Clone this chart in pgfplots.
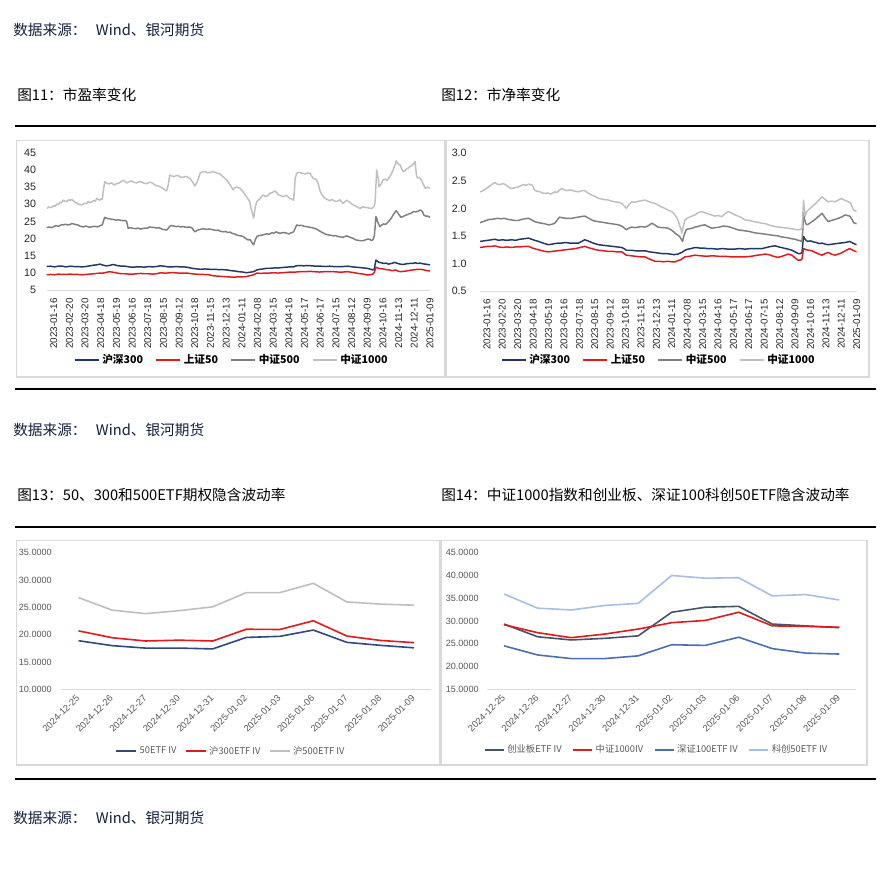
\documentclass[border=0pt]{standalone}
\usepackage{fontspec}
\usepackage{pgfplots}
\usepackage{pgfplotstable}
\pgfplotsset{compat=1.18}
\setmainfont{Liberation Sans}
\newfontfamily\cjk{Noto Sans CJK SC}

\definecolor{hdr}{HTML}{13213F}
\definecolor{cnavy}{HTML}{1F3864}
\definecolor{cred}{HTML}{E31A1C}
\definecolor{cgray}{HTML}{7F7F7F}
\definecolor{clgray}{HTML}{BFBFBF}
\definecolor{cfifty}{HTML}{2F4A7E}
\definecolor{cchy}{HTML}{44546A}
\definecolor{csz}{HTML}{4A6FB5}
\definecolor{ckc}{HTML}{A6BFE8}
\definecolor{boxc}{HTML}{D9D9D9}
\definecolor{tickc}{HTML}{595959}

% ---- PE (fig 11) ----
\pgfplotstableread{
x y
0 28.8
3 29.2
6 29.0
9 29.6
11 29.4
13 30.1
15 29.9
17 30.6
19 30.4
21 31.2
23 30.9
25.5 30.8
28 31.3
30 31.1
32 31.4
34 31.0
36 30.6
38 30.4
41 30.0
44.6 29.8
47 30.1
49 30.3
51 30.2
53 30.8
55 30.5
57 30.6
60 31.1
62 30.9
64 31.7
66 31.4
68 31.2
70 31.6
71 31.4
72 33.5
74 36.6
76 36.2
79 35.9
81 36.1
83 36.2
85 35.8
87 35.6
89 36.1
91 36.0
94 36.4
96 36.8
98 37.0
100 36.6
102 36.2
105 36.5
108 36.8
111 36.4
115 36.2
118 36.6
121 36.5
124 36.1
128 36.0
131 36.4
134 36.3
137 35.8
140 35.4
143 35.3
145 35.1
147 34.8
149 34.5
151 34.1
153 33.9
155 35.5
157 38.5
160 38.2
162 38.0
165 38.3
168 38.3
171 37.9
174 37.8
177 38.1
179 38.0
181 37.7
183 37.5
186 36.5
189 35.3
192 36.5
194 37.8
196 39.2
199 39.4
202 39.5
205 39.2
208 39.2
211 39.5
215 39.3
218 39.0
221 38.8
223 38.4
225 38.0
228 37.4
230 37.0
232 36.3
234 35.6
236 34.9
238 34.2
240 34.8
242 35.0
245 34.8
247 34.6
249 34.0
251 33.5
253 32.8
255 32.2
257 31.5
259 30.8
261 28.5
263 27.0
264 26.0
265 27.5
266 29.0
268 30.8
270 31.2
272 31.5
274 32.2
276 32.7
278 32.4
281 32.3
283 32.8
285 33.2
288 33.4
291 33.9
293 33.5
296 32.7
299 32.5
302 32.2
304 32.4
306 32.6
308 32.1
310 31.7
313 31.5
315 31.2
316 34.0
317 37.5
319 39.0
321 39.3
323 39.2
326 39.0
330 38.8
333 39.1
336 39.0
338 38.2
340 37.5
342 37.4
344 37.1
346 36.2
349 33.7
352 32.5
355 31.7
358 31.4
361 31.0
363 31.3
366 31.2
368 30.9
370 30.8
372 31.0
374 31.3
376 30.8
378 30.3
381 30.8
383 31.2
385 30.8
387 30.5
389 30.1
391 29.8
393 29.6
395 29.4
397 29.1
400 28.8
402 29.1
404 29.3
406 29.0
408 29.1
411 28.9
415 28.8
417 29.2
418 29.5
419 30.8
420 35.5
421 40.0
422 38.5
423 37.5
424 35.1
425 35.4
427 36.0
429 37.1
432 37.3
434 36.9
436 37.5
439 38.5
442 40.0
444 41.2
446 42.6
448 41.8
451 41.4
453 40.2
455 39.5
457 39.8
459 40.2
461 40.5
463 40.9
466 41.3
468 41.8
470 42.4
471 40.0
472 38.0
474 37.6
475 37.8
477 37.4
478 37.1
480 36.0
483 34.6
486 35.0
489 34.6
}\peThousand

\pgfplotstableread{
x y
0 23.2
3 23.4
6 23.2
9 23.5
12 23.8
15 23.6
17 23.8
19 24.1
21 24.0
24 24.2
27 24.0
30 24.1
32 24.4
34 24.3
37 24.1
40 24.0
42 23.7
44.6 23.5
47 23.4
50 23.7
52 23.5
55 23.3
58 23.5
62 23.6
65 23.4
68 23.8
70 23.9
71 24.0
72 24.8
74 26.2
76 26.0
78 25.8
80 25.8
83 25.6
85 25.6
88 25.4
92 25.5
95 25.3
98 25.2
100 25.3
102 25.0
103 24.0
104 23.0
107 23.2
110 23.0
114 22.9
117 23.1
119 22.8
122 22.9
125 23.1
128 23.0
131 23.4
134 23.3
136 23.3
140 23.1
143 23.2
145 23.0
148 22.7
151 22.6
153 22.5
155 23.0
157 23.6
159 23.8
162 23.7
165 23.5
168 23.6
171 23.4
174 23.5
178 23.3
182 23.4
185 23.2
187 22.6
189 22.0
192 22.4
194 22.6
196 22.7
200 22.9
204 22.7
208 22.8
212 22.6
216 22.4
219 22.5
221 22.2
225 22.0
228 22.1
231 21.8
234 21.9
237 21.5
240 21.4
242 21.1
245 20.9
248 20.8
251 20.6
253 20.2
255 19.9
257 19.6
259 19.8
261 19.2
262 18.8
264 18.2
266 19.6
268 20.6
271 20.9
274 21.0
277 21.2
281 21.4
284 21.3
287 21.7
290 21.6
293 22.0
295 21.7
298 21.6
302 21.8
306 21.6
309 21.4
312 21.7
315 22.0
317 23.0
319 24.0
322 23.8
325 23.9
328 23.6
332 23.5
336 23.3
340 23.1
344 22.8
347 22.4
350 22.0
353 21.6
356 21.3
359 21.1
362 21.0
366 20.8
369 20.9
372 20.6
375 20.5
378 20.4
381 20.7
383 20.8
385 20.6
388 20.3
391 20.1
393 19.8
395 19.6
398 19.5
401 19.4
404 19.4
407 19.7
410 19.9
412 19.8
414 19.5
416 19.6
418 20.8
419 23.5
420 26.4
421 26.0
422 25.0
424 24.0
425 23.5
427 23.9
430 24.3
432 24.1
434 24.5
437 25.2
440 26.1
442 26.9
444 27.6
446 28.1
448 27.5
450 26.8
452 26.2
454 26.4
456 26.6
459 26.9
462 27.2
465 27.4
468 27.9
471 27.8
474 28.0
476 28.3
478 28.2
480 27.6
481 26.9
484 26.5
486 26.6
489 26.2
}\peFive

\pgfplotstableread{
x y
0 11.9
5 12.0
10 11.8
15 12.0
20 12.0
25 11.8
30 12.0
35 11.9
40 11.9
45 11.8
50 11.9
55 12.1
60 12.3
64 12.4
68 12.6
72 12.3
76 12.1
80 12.2
83 12.4
85 12.5
88 12.3
92 12.1
96 12.0
100 12.0
105 11.8
110 11.7
115 11.8
120 11.8
125 11.7
130 11.9
135 11.8
140 11.9
145 12.1
150 12.0
155 11.8
160 11.8
165 11.9
170 11.8
175 11.8
179 11.7
183 11.5
188 11.3
192 11.2
196 11.1
202 11.2
208 11.1
214 11.1
220 11.0
225 11.0
230 10.9
235 10.7
240 10.6
245 10.4
250 10.3
255 10.1
258 10.2
261 10.3
264 10.4
268 10.9
272 11.1
276 11.2
281 11.4
286 11.4
291 11.5
296 11.5
300 11.6
305 11.7
310 11.8
315 11.8
318 12.1
323 12.2
328 12.1
333 12.2
338 12.1
344 12.0
350 12.0
356 11.9
361 12.0
366 11.9
372 11.9
378 11.9
384 12.0
390 11.8
395 11.7
400 11.6
404 11.5
408 11.4
412 11.2
416 10.9
418 11.2
420 13.8
422 13.4
424 13.1
427 13.0
430 12.8
433 12.9
436 12.6
440 12.8
444 13.1
448 12.8
451 12.6
455 12.5
459 12.7
463 12.8
467 12.8
470 13.0
473 12.8
476 12.9
480 12.7
483 12.6
486 12.5
489 12.4
}\peHS

\pgfplotstableread{
x y
0 9.5
5 9.6
10 9.5
15 9.7
20 9.6
25 9.6
30 9.7
35 9.6
40 9.6
45 9.5
50 9.6
55 9.7
60 9.8
64 9.9
68 10.0
72 10.0
76 10.2
80 10.4
83 10.3
86 10.2
90 10.0
95 9.8
100 9.8
105 9.7
110 9.7
115 9.8
120 9.9
125 9.8
130 9.8
135 9.7
140 9.8
145 10.1
150 10.0
153 10.0
158 10.1
163 10.1
168 10.0
173 10.0
179 10.0
185 9.8
190 9.7
195 9.6
200 9.6
207 9.5
213 9.2
219 9.1
225 9.0
232 8.9
238 8.8
244 8.9
250 8.9
255 9.0
260 9.3
264 9.5
268 10.0
273 9.9
278 10.0
284 10.0
290 10.1
295 10.0
300 10.1
306 10.2
312 10.3
318 10.3
323 10.4
330 10.4
336 10.5
342 10.4
348 10.3
354 10.4
360 10.4
366 10.4
372 10.3
378 10.3
384 10.4
390 10.2
395 10.0
400 9.8
404 9.7
408 9.5
412 9.5
416 9.7
418 10.2
420 11.7
423 11.4
426 11.3
429 11.2
433 11.0
437 10.9
441 10.7
445 10.9
448 10.6
451 10.4
455 10.5
459 10.6
463 10.8
467 10.9
470 11.0
473 11.1
476 11.1
480 11.0
483 10.8
486 10.7
489 10.6
}\peSZ

% ---- PB (fig 12) ----
\pgfplotstableread{
x y
0 2.30
4 2.32
8 2.36
11 2.39
14 2.42
17 2.45
19.5 2.47
22 2.44
26 2.43
29 2.45
32 2.44
35 2.41
38 2.38
41 2.36
44 2.37
47 2.38
50 2.39
53 2.41
56 2.43
60 2.42
63 2.44
66 2.43
68 2.42
71 2.33
74 2.31
78 2.30
81 2.28
84 2.27
88 2.28
92 2.26
97 2.30
100 2.29
103 2.33
106 2.36
109 2.34
112 2.32
115 2.33
119 2.33
123 2.31
128 2.30
132 2.32
136 2.32
140 2.28
145 2.24
149 2.22
154 2.18
158 2.17
162 2.16
167 2.15
171 2.13
175 2.12
180 2.11
184 2.09
187 2.05
190 2.00
193 2.06
197 2.12
201 2.11
206 2.13
210 2.14
214 2.15
218 2.13
222 2.11
227 2.09
231 2.06
235 2.03
240 2.00
244 1.97
249 1.94
252 1.90
255 1.84
257 1.79
259 1.70
261 1.62
262 1.55
264 1.68
266 1.79
269 1.82
272 1.84
275 1.86
279 1.88
283 1.92
288 1.94
292 1.92
296 1.90
301 1.88
305 1.86
309 1.87
314 1.85
318 1.90
322 1.94
326 1.92
331 1.88
335 1.86
340 1.83
344 1.79
350 1.78
355 1.76
360 1.75
366 1.73
371 1.72
377 1.69
383 1.67
388 1.66
394 1.65
400 1.64
404 1.63
409 1.62
413 1.61
416 1.62
418 1.64
419 1.85
420 2.15
421 2.00
422 1.85
424 1.94
427 1.98
431 2.03
435 2.08
440 2.15
444 2.21
448 2.16
452 2.12
456 2.13
461 2.12
465 2.15
469 2.18
473 2.15
478 2.12
481 2.10
485 1.97
489 1.94
}\pbThousand

\pgfplotstableread{
x y
0 1.74
4 1.76
8 1.78
12 1.80
15 1.80
19 1.81
23 1.82
27 1.81
32 1.82
36 1.80
41 1.79
45 1.78
50 1.78
54 1.80
58 1.81
63 1.82
67 1.79
71 1.76
76 1.74
80 1.73
84 1.72
89 1.70
93 1.71
97 1.73
100 1.78
103 1.84
107 1.83
111 1.82
115 1.82
119 1.82
123 1.83
127 1.84
131 1.85
136 1.86
140 1.83
145 1.79
149 1.77
153 1.76
158 1.75
162 1.74
166 1.73
171 1.72
176 1.71
180 1.70
185 1.67
190 1.61
193 1.64
197 1.66
201 1.65
205 1.66
210 1.67
214 1.66
218 1.68
221 1.71
223 1.73
227 1.70
231 1.66
236 1.65
240 1.65
244 1.64
248 1.61
251 1.58
253 1.55
256 1.52
259 1.49
261 1.45
263 1.40
265 1.52
268 1.62
272 1.63
276 1.64
279 1.66
283 1.67
287 1.69
292 1.70
296 1.67
301 1.64
306 1.65
311 1.66
316 1.68
322 1.67
327 1.65
331 1.63
335 1.61
340 1.60
345 1.59
350 1.58
355 1.56
360 1.55
366 1.54
371 1.53
376 1.52
381 1.51
387 1.50
392 1.48
398 1.47
404 1.45
409 1.44
413 1.42
416 1.41
418 1.40
419 1.60
420 1.91
421 1.82
423 1.72
425 1.70
428 1.73
431 1.76
435 1.80
440 1.86
444 1.91
448 1.83
452 1.76
456 1.78
461 1.80
465 1.82
469 1.84
474 1.88
477 1.87
480 1.86
483 1.80
485 1.74
489 1.72
}\pbFive

\pgfplotstableread{
x y
0 1.40
5 1.41
10 1.42
15 1.43
19.5 1.44
24 1.42
29 1.43
35 1.42
41 1.43
46 1.42
52 1.44
58 1.45
63 1.46
67 1.44
71 1.42
76 1.40
80 1.38
84 1.36
89 1.34
93 1.35
97 1.36
102 1.37
106 1.37
111 1.38
116 1.37
122 1.37
128 1.37
132 1.40
136 1.43
140 1.41
145 1.38
149 1.36
154 1.34
160 1.33
166 1.32
172 1.31
178 1.30
184 1.29
187 1.27
190 1.24
196 1.24
202 1.23
208 1.23
214 1.23
220 1.21
226 1.20
231 1.19
236 1.18
242 1.18
247 1.17
252 1.16
257 1.17
260 1.19
262 1.20
264 1.22
266 1.24
270 1.26
274 1.27
279 1.29
285 1.28
290 1.28
295 1.27
301 1.27
308 1.26
315 1.27
322 1.26
330 1.26
337 1.27
344 1.26
351 1.27
358 1.27
366 1.27
372 1.29
378 1.31
383 1.32
388 1.30
394 1.28
400 1.26
405 1.24
409 1.21
413 1.18
416 1.18
418 1.20
419 1.35
420 1.49
422 1.44
425 1.40
429 1.41
433 1.39
437 1.38
440 1.36
444 1.37
448 1.35
452 1.34
457 1.35
462 1.36
468 1.37
474 1.38
477 1.39
480 1.40
484 1.37
487 1.35
489 1.34
}\pbHS

\pgfplotstableread{
x y
0 1.29
5 1.30
10 1.31
15 1.31
19.5 1.32
24 1.30
29 1.29
35 1.30
41 1.29
46 1.30
52 1.30
58 1.31
63 1.31
68 1.28
73 1.26
78 1.24
84 1.22
89 1.21
94 1.22
100 1.23
106 1.24
112 1.25
118 1.26
124 1.27
130 1.29
136 1.31
140 1.29
145 1.27
150 1.25
154 1.24
160 1.23
166 1.22
172 1.22
178 1.21
184 1.21
187 1.18
190 1.15
196 1.14
202 1.13
208 1.12
214 1.12
220 1.08
227 1.04
232 1.04
238 1.03
243 1.04
249 1.03
253 1.03
257 1.05
261 1.07
266 1.12
272 1.13
279 1.15
286 1.14
294 1.13
302 1.14
310 1.13
318 1.13
326 1.12
335 1.12
344 1.12
352 1.13
360 1.15
366 1.16
370 1.17
375 1.16
381 1.13
387 1.11
392 1.13
396 1.15
400 1.17
405 1.15
409 1.10
413 1.06
416 1.06
418 1.08
419 1.18
420 1.27
423 1.25
427 1.24
431 1.23
435 1.20
440 1.17
444 1.15
448 1.18
452 1.20
456 1.17
461 1.15
465 1.17
469 1.19
474 1.23
477 1.25
480 1.27
484 1.24
487 1.22
489 1.21
}\pbSZ

\pgfplotsset{
  datelabels/.style={
    xtick={9,29,...,489},
    xticklabels={2023-01-16,2023-02-20,2023-03-20,2023-04-18,2023-05-19,2023-06-16,2023-07-18,2023-08-15,2023-09-12,2023-10-18,2023-11-15,2023-12-13,2024-01-11,2024-02-08,2024-03-15,2024-04-16,2024-05-17,2024-06-17,2024-07-15,2024-08-12,2024-09-09,2024-10-16,2024-11-13,2024-12-11,2025-01-09},
  },
  ivlabels/.style={
    xtick={0,...,10},
    xticklabels={2024-12-25,2024-12-26,2024-12-27,2024-12-30,2024-12-31,2025-01-02,2025-01-03,2025-01-06,2025-01-07,2025-01-08,2025-01-09},
    xmin=-0.5, xmax=10.5,
  },
  common/.style={
    scale only axis,
    anchor=south west,
    axis x line*=bottom, axis y line*=left,
    x axis line style={draw=boxc, -},
    y axis line style={draw=none},
    major tick length=0pt,
    /pgf/number format/assume math mode=true,
    legend columns=4,
    legend style={draw=none, fill=none, anchor=center},
  },
}

\begin{document}
\begin{tikzpicture}[x=0.75pt, y=-0.75pt]
\fill[white] (0,0) rectangle (892,878);
\path[use as bounding box] (0,0) rectangle (892,878);

% header texts and rules
\begin{scope}[every node/.style={anchor=west, inner sep=0pt, font=\cjk\fontsize{11}{13}\selectfont}]
\node[text=hdr] at (13,30) {数据来源：\hspace{7pt}Wind、银河期货};
\node at (17,95) {图11：市盈率变化};
\node at (441,95) {图12：市净率变化};
\node[text=hdr] at (13,430) {数据来源：\hspace{7pt}Wind、银河期货};
\node at (17,495) {图13：50、300和500ETF期权隐含波动率};
\node at (441,495) {图14：中证1000指数和创业板、深证100科创50ETF隐含波动率};
\node[text=hdr] at (13,818) {数据来源：\hspace{7pt}Wind、银河期货};
\end{scope}
\draw[line width=1.5pt] (15,126) -- (876,126);
\draw[line width=1.5pt] (15,389) -- (876,389);
\draw[line width=1.5pt] (15,527) -- (876,527);
\draw[line width=1.5pt] (15,779) -- (876,779);

\draw[boxc, line width=0.8pt] (16.7,140.7) rectangle (445,377);
\draw[boxc, line width=0.8pt] (446.7,140.7) rectangle (869,377);
\draw[boxc, line width=0.8pt] (16.7,540.7) rectangle (440,765);
\draw[boxc, line width=0.8pt] (441.7,540.7) rectangle (867,765);

% ---- Fig 11: PE ----
\begin{axis}[common, datelabels,
  at={(35.0pt,-217.7pt)}, width=287.5pt, height=103.2pt,
  xmin=0, xmax=489, ymin=5, ymax=45, ytick={5,10,...,45},
  yticklabel style={font=\fontsize{8}{9}\selectfont, text=black!85, xshift=-4.5pt},
  xticklabel style={font=\fontsize{7.4}{8}\selectfont, text=black!85, yshift=-2.5pt, rotate=90, anchor=east},
  legend style={at={(0.4834,-0.5065)}, font=\cjk\bfseries\fontsize{8}{9}\selectfont,
    /tikz/every even column/.append style={column sep=7pt}},
  legend image code/.code={\draw[#1, line width=1.5pt] (0pt,0pt) -- (18pt,0pt);},
  every axis plot/.append style={line width=1.1pt, line join=round},
]
\addplot[cnavy] table {\peHS};
\addplot[cred] table {\peSZ};
\addplot[cgray] table {\peFive};
\addplot[clgray] table {\peThousand};
\legend{沪深300,上证50,中证500,中证1000}
\end{axis}

% ---- Fig 12: PB ----
\begin{axis}[common, datelabels,
  at={(360pt,-218.25pt)}, width=282.5pt, height=103.3pt,
  xmin=0, xmax=489, ymin=0.5, ymax=3.0, ytick={0.5,1.0,...,3.0},
  yticklabel style={/pgf/number format/.cd, fixed, fixed zerofill, precision=1, /tikz/.cd,
    font=\fontsize{8}{9}\selectfont, text=black!85, xshift=-6.5pt},
  xticklabel style={font=\fontsize{7.4}{8}\selectfont, text=black!85, yshift=-2.5pt, rotate=90, anchor=east},
  legend style={at={(0.475,-0.501)}, font=\cjk\bfseries\fontsize{8}{9}\selectfont,
    /tikz/every even column/.append style={column sep=7pt}},
  legend image code/.code={\draw[#1, line width=1.5pt] (0pt,0pt) -- (18pt,0pt);},
  every axis plot/.append style={line width=1.1pt, line join=round},
]
\addplot[cnavy] table {\pbHS};
\addplot[cred] table {\pbSZ};
\addplot[cgray] table {\pbFive};
\addplot[clgray] table {\pbThousand};
\legend{沪深300,上证50,中证500,中证1000}
\end{axis}

% ---- Fig 13: ETF IV ----
\begin{axis}[common, ivlabels,
  at={(46.3pt,-517.0pt)}, width=276.75pt, height=102.45pt,
  ymin=10, ymax=35, ytick={10,15,...,35},
  yticklabel style={/pgf/number format/.cd, fixed, fixed zerofill, precision=4, /tikz/.cd,
    font=\fontsize{6.8}{8}\selectfont, text=tickc, xshift=-4pt},
  xticklabel style={font=\fontsize{7}{8}\selectfont, text=tickc, xshift=2pt, yshift=-3pt, rotate=45, anchor=east},
  legend style={at={(0.459,-0.452)}, font=\cjk\fontsize{7}{8}\selectfont, text=tickc,
    /tikz/every even column/.append style={column sep=4pt}},
  legend image code/.code={\draw[#1, line width=1.5pt] (0pt,0pt) -- (15pt,0pt);},
  every axis plot/.append style={line width=1.2pt, line join=round},
]
\addplot[cfifty] coordinates {(0,18.9) (1,18.0) (2,17.55) (3,17.55) (4,17.4) (5,19.5) (6,19.7) (7,20.85) (8,18.6) (9,18.05) (10,17.6)};
\addplot[cred] coordinates {(0,20.7) (1,19.45) (2,18.85) (3,19.0) (4,18.85) (5,21.0) (6,20.95) (7,22.55) (8,19.75) (9,18.95) (10,18.55)};
\addplot[clgray] coordinates {(0,26.8) (1,24.5) (2,23.85) (3,24.4) (4,25.1) (5,27.7) (6,27.7) (7,29.4) (8,26.0) (9,25.6) (10,25.4)};
\legend{50ETF IV,沪300ETF IV,沪500ETF IV}
\end{axis}

% ---- Fig 14: IV ----
\begin{axis}[common, ivlabels,
  at={(365.5pt,-516.75pt)}, width=276.5pt, height=102.2pt,
  ymin=15, ymax=45, ytick={15,20,...,45},
  yticklabel style={/pgf/number format/.cd, fixed, fixed zerofill, precision=4, /tikz/.cd,
    font=\fontsize{6.8}{8}\selectfont, text=tickc, xshift=-3pt},
  xticklabel style={font=\fontsize{7}{8}\selectfont, text=tickc, xshift=2pt, yshift=-3pt, rotate=45, anchor=east},
  legend style={at={(0.460,-0.4475)}, font=\cjk\fontsize{7}{8}\selectfont, text=tickc,
    /tikz/every even column/.append style={column sep=6pt}},
  legend image code/.code={\draw[#1, line width=1.5pt] (0pt,0pt) -- (14pt,0pt);},
  every axis plot/.append style={line width=1.2pt, line join=round},
]
\addplot[cchy] coordinates {(0,29.3) (1,26.5) (2,25.8) (3,26.15) (4,26.7) (5,31.9) (6,33.0) (7,33.2) (8,29.3) (9,28.9) (10,28.5)};
\addplot[cred] coordinates {(0,29.15) (1,27.4) (2,26.3) (3,27.1) (4,28.2) (5,29.6) (6,30.1) (7,31.9) (8,28.9) (9,28.8) (10,28.6)};
\addplot[csz] coordinates {(0,24.5) (1,22.5) (2,21.7) (3,21.7) (4,22.3) (5,24.75) (6,24.6) (7,26.4) (8,23.9) (9,22.9) (10,22.7)};
\addplot[ckc] coordinates {(0,35.9) (1,32.8) (2,32.4) (3,33.4) (4,33.85) (5,40.0) (6,39.4) (7,39.5) (8,35.5) (9,35.8) (10,34.6)};
\legend{创业板ETF IV,中证1000IV,深证100ETF IV,科创50ETF IV}
\end{axis}
\end{tikzpicture}
\end{document}
